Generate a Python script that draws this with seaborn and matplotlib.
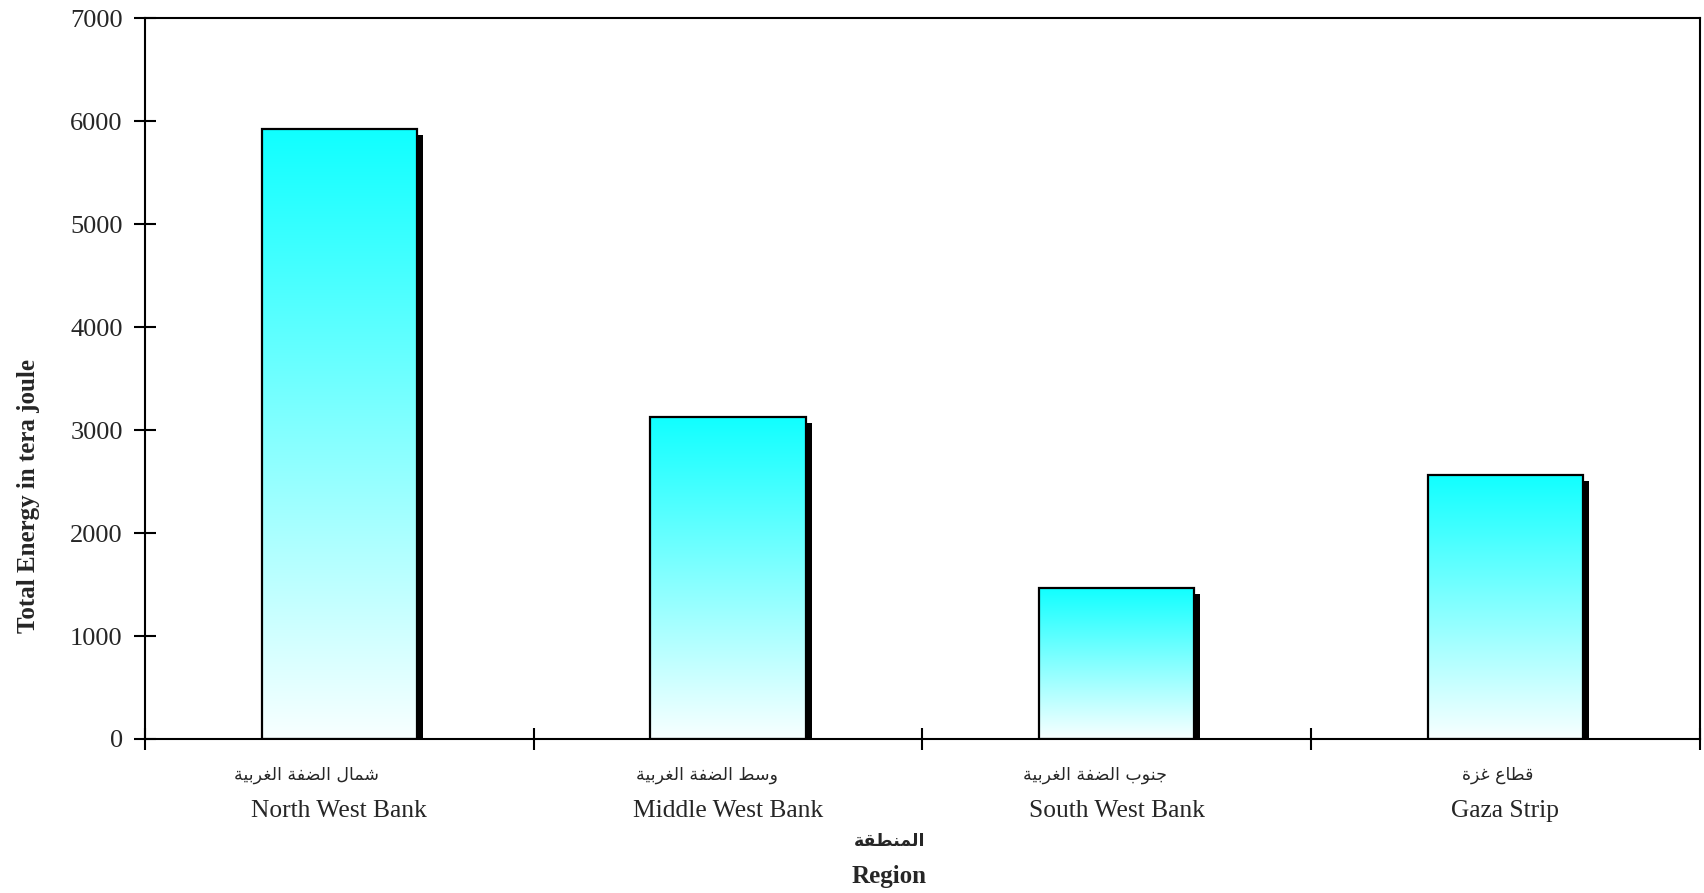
import numpy as np
import matplotlib
matplotlib.use('Agg')
import matplotlib.pyplot as plt
import matplotlib.transforms as mtransforms
from matplotlib.colors import LinearSegmentedColormap
from matplotlib.patches import Rectangle
import seaborn as sns

# data
regions_en = ['North West Bank', 'Middle West Bank', 'South West Bank', 'Gaza Strip']
regions_ar = ['شمال الضفة الغربية', 'وسط الضفة الغربية', 'جنوب الضفة الغربية', 'قطاع غزة']
energy = [5920, 3130, 1470, 2565]
yticks = [0, 1000, 2000, 3000, 4000, 5000, 6000, 7000]

# Arabic presentation forms (isolated, final, initial, medial) since matplotlib does no shaping
FORMS = {
    'ا': ('\uFE8D', '\uFE8E'), 'ة': ('\uFE93', '\uFE94'), 'ر': ('\uFEAD', '\uFEAE'),
    'ز': ('\uFEAF', '\uFEB0'), 'و': ('\uFEED', '\uFEEE'),
    'ب': ('\uFE8F', '\uFE90', '\uFE91', '\uFE92'), 'ج': ('\uFE9D', '\uFE9E', '\uFE9F', '\uFEA0'),
    'س': ('\uFEB1', '\uFEB2', '\uFEB3', '\uFEB4'), 'ش': ('\uFEB5', '\uFEB6', '\uFEB7', '\uFEB8'),
    'ض': ('\uFEBD', '\uFEBE', '\uFEBF', '\uFEC0'), 'ط': ('\uFEC1', '\uFEC2', '\uFEC3', '\uFEC4'),
    'ع': ('\uFEC9', '\uFECA', '\uFECB', '\uFECC'), 'غ': ('\uFECD', '\uFECE', '\uFECF', '\uFED0'),
    'ف': ('\uFED1', '\uFED2', '\uFED3', '\uFED4'), 'ق': ('\uFED5', '\uFED6', '\uFED7', '\uFED8'),
    'ل': ('\uFEDD', '\uFEDE', '\uFEDF', '\uFEE0'), 'م': ('\uFEE1', '\uFEE2', '\uFEE3', '\uFEE4'),
    'ن': ('\uFEE5', '\uFEE6', '\uFEE7', '\uFEE8'), 'ي': ('\uFEF1', '\uFEF2', '\uFEF3', '\uFEF4'),
}
DUAL = {c for c, f in FORMS.items() if len(f) == 4}


def shape(s):
    out = []
    for i, c in enumerate(s):
        f = FORMS.get(c)
        if f is None:
            out.append(c)
            continue
        prev = s[i-1] if i > 0 else ''
        nxt = s[i+1] if i + 1 < len(s) else ''
        jp = prev in DUAL
        jn = c in DUAL and nxt in FORMS
        if jp and jn:
            out.append(f[3])
        elif jp:
            out.append(f[1])
        elif jn:
            out.append(f[2])
        else:
            out.append(f[0])
    return ''.join(reversed(out))


sns.set_theme(style='ticks')
plt.rcParams['font.family'] = ['Liberation Serif', 'DejaVu Sans']
serif = ['Liberation Serif', 'DejaVu Sans']

fig = plt.figure(figsize=(17.04, 8.93), dpi=100)
ax = fig.add_axes([0.0851, 0.1725, 0.9123, 0.807])

sns.barplot(x=regions_en, y=energy, ax=ax, width=0.4, color='white',
            edgecolor='black', linewidth=1.6, zorder=2)

# white at the bottom to cyan at the top of every bar
cmap = LinearSegmentedColormap.from_list('cy', ['#f8ffff', '#10ffff'])
grad = np.linspace(0, 1, 256).reshape(-1, 1)
shift = mtransforms.ScaledTranslation(6/100, -6/100, fig.dpi_scale_trans)
for p in ax.patches:
    x0, w, h = p.get_x(), p.get_width(), p.get_height()
    # drop shadow to the lower right
    ax.add_patch(Rectangle((x0, 0), w, h, facecolor='black', edgecolor='none',
                           transform=ax.transData + shift, zorder=1))
    p.set_facecolor('none')
    im = ax.imshow(grad, cmap=cmap, extent=(x0, x0 + w, 0, h), origin='lower',
                   aspect='auto', zorder=1.5, interpolation='bilinear')
    im.set_clip_path(p)

ax.set_xlim(-0.5, 3.5)
ax.set_ylim(0, 7000)
ax.set_yticks(yticks)
ax.set_yticklabels([str(v) for v in yticks], fontsize=19, family=serif)

ax.set_xticks(np.arange(-0.5, 4, 1))
ax.set_xticklabels([])
ax.set_xticks(np.arange(len(regions_en)), minor=True)
ax.set_xticklabels(regions_en, minor=True, fontsize=18.4, family=serif)
ax.tick_params(axis='x', which='minor', length=0, pad=44)
ax.tick_params(axis='both', which='major', direction='inout', length=16, width=1.5,
               color='black')
ax.tick_params(axis='y', pad=8)

ar_offsets = [-0.085, -0.053, -0.056, -0.02]
for i, (lab, off) in enumerate(zip(regions_ar, ar_offsets)):
    ax.annotate(shape(lab), xy=(i + off, 0), xycoords=('data', 'axes fraction'),
                xytext=(0, -26), textcoords='offset points', ha='center', va='center',
                fontsize=12.5, family=['DejaVu Sans'])

for s in ax.spines.values():
    s.set_visible(True)
    s.set_linewidth(1.5)
    s.set_color('black')

ax.set_xlabel('')
ax.set_ylabel('')
fig.text(0.017, 0.4446, 'Total Energy in tera joule', rotation=90, ha='center', va='center',
         fontsize=18, fontweight='bold', family=serif)
fig.text(0.522, 0.058, shape('المنطقة'), ha='center', va='center', fontsize=12.5,
         fontweight='bold', family=['DejaVu Sans'])
fig.text(0.522, 0.019, 'Region', ha='center', va='center', fontsize=18,
         fontweight='bold', family=serif)

fig.savefig('out.png', dpi=100)
